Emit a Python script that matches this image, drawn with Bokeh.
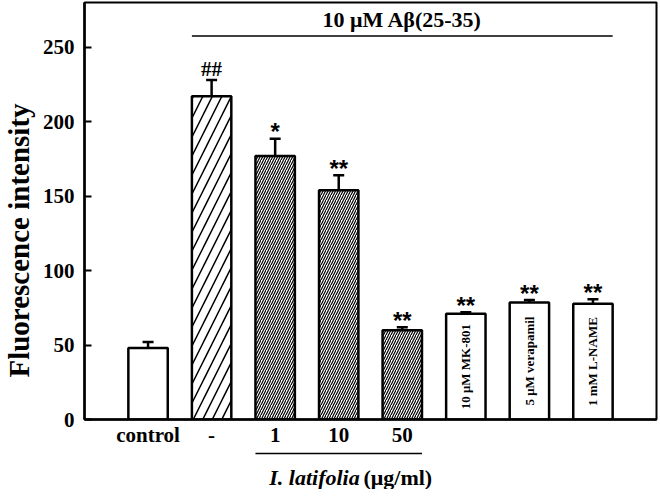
import numpy as np
from bokeh.plotting import figure
from bokeh.layouts import column, row
from bokeh.models import (ColumnDataSource, Range1d, FixedTicker, Whisker, TeeHead)
from bokeh.core.properties import value
from bokeh.embed import file_html
from bokeh.resources import INLINE

# ---------------- data ----------------
groups = ["control", "-", "1", "10", "50", "MK-801", "verapamil", "L-NAME"]
axis_labels = ["control", "-", "1", "10", "50"]
inner_labels = ["", "", "", "", "", "10 μM MK-801", "5 μM verapamil", "1 mM L-NAME"]
means = [48, 217, 177, 154, 60, 71, 78.5, 77.8]
errors = [4, 11, 11.5, 10, 2, 1, 1.7, 3]
marks = ["", "##", "*", "**", "**", "**", "**", "**"]
yticks = [0, 50, 100, 150, 200, 250]
top_label = "10 μM Aβ(25-35)"
x_title_italic = "I. latifolia"
x_title_rest = "(μg/ml)"
y_title = "Fluorescence intensity"

# ---------------- styles ----------------
hatch = ["blank", "/", "/", "/", "/", "blank", "blank", "blank"]
hscale = [12, 19, 5, 5, 5, 12, 12, 12]
hweight = [1, 1.5, 1.2, 1.2, 1.2, 1, 1, 1]
SERIF = value("Liberation Serif")
SANS = value("Liberation Sans")
BW = 0.62
W = 658
LW = 36          # width of the strip that holds the y title
H_MAIN = 449
H_STRIP = 40
H_ALL = H_MAIN + H_STRIP

xs = list(range(len(groups)))
upper = [m + e for m, e in zip(means, errors)]
src = ColumnDataSource(dict(x=xs, top=means, upper=upper, hatch=hatch,
                            hscale=hscale, hweight=hweight, mark=marks,
                            inner=inner_labels, mid=[m / 2 for m in means]))

p = figure(width=W - LW, height=H_MAIN, x_range=Range1d(-1, 8), y_range=Range1d(0, 280),
           output_backend="svg", toolbar_location=None, title=None,
           min_border_left=84 - LW, min_border_right=2, min_border_top=2,
           min_border_bottom=27)
p.background_fill_color = "white"
p.border_fill_color = "white"
p.outline_line_color = "black"
p.outline_line_width = 2
p.xgrid.visible = False
p.ygrid.visible = False

p.vbar(x="x", top="top", width=BW, source=src, fill_color="white",
       line_color="black", line_width=2.5, hatch_pattern="hatch",
       hatch_scale="hscale", hatch_weight="hweight", hatch_color="black")

p.add_layout(Whisker(base="x", upper="upper", lower="top", source=src,
                     line_width=2.5, line_color="black",
                     upper_head=TeeHead(size=11, line_width=2.5, line_color="black"),
                     lower_head=None))

# significance marks
hash_idx = [i for i, m in enumerate(marks) if m.startswith("#")]
star_idx = [i for i, m in enumerate(marks) if m.startswith("*")]
p.text(x=[xs[i] for i in hash_idx], y=[upper[i] for i in hash_idx],
       text=[marks[i] for i in hash_idx], text_align="center", text_baseline="middle",
       y_offset=-11, text_font=SERIF, text_font_size="21px", text_font_style="bold",
       text_color="black")
p.text(x=[xs[i] for i in star_idx], y=[upper[i] for i in star_idx],
       text=[marks[i] for i in star_idx], text_align="center", text_baseline="middle",
       y_offset=-7, text_font=SANS, text_font_size="24px", text_font_style="bold",
       text_color="black")

# rotated labels inside the last bars
p.text(x="x", y="mid", text="inner", source=src, angle=np.pi / 2,
       text_align="center", text_baseline="middle", text_font=SERIF,
       text_font_size="13px", text_font_style="bold", text_color="black")

# top bracket
p.segment(x0=[xs[1] - BW / 2], y0=[257.5], x1=[xs[-1] + BW / 2], y1=[257.5],
          line_color="black", line_width=1.5)
p.text(x=[(xs[1] + xs[-1]) / 2], y=[268.5], text=[top_label], text_align="center",
       text_baseline="middle", text_font=SERIF, text_font_size="22px",
       text_font_style="bold", text_color="black")

# axes
p.xaxis.ticker = FixedTicker(ticks=xs[:len(axis_labels)])
p.xaxis.major_label_overrides = {i: lab for i, lab in enumerate(axis_labels)}
p.xaxis.major_tick_line_color = None
p.xaxis.minor_tick_line_color = None
p.xaxis.major_tick_out = 0
p.xaxis.major_tick_in = 0
p.xaxis.axis_line_width = 2.5
p.xaxis.major_label_standoff = 3
p.xaxis.major_label_text_font = "Liberation Serif"
p.xaxis.major_label_text_font_size = "21px"
p.xaxis.major_label_text_font_style = "bold"
p.xaxis.major_label_text_color = "black"

p.yaxis.ticker = FixedTicker(ticks=yticks)
p.yaxis.axis_line_width = 2.5
p.yaxis.major_tick_in = 7
p.yaxis.major_tick_out = 0
p.yaxis.major_tick_line_width = 2
p.yaxis.minor_tick_line_color = None
p.yaxis.major_label_standoff = 10
p.yaxis.major_label_text_font = "Liberation Serif"
p.yaxis.major_label_text_font_size = "21px"
p.yaxis.major_label_text_font_style = "bold"
p.yaxis.major_label_text_color = "black"


def strip(width, height, x_range, y_range, left=0, right=0):
    f = figure(width=width, height=height, x_range=x_range, y_range=y_range,
               output_backend="svg", toolbar_location=None, title=None,
               x_axis_location=None, y_axis_location=None,
               min_border_left=left, min_border_right=right,
               min_border_top=0, min_border_bottom=0)
    f.outline_line_color = None
    f.xgrid.visible = False
    f.ygrid.visible = False
    f.background_fill_color = "white"
    f.border_fill_color = "white"
    return f


# strip below the axis: group bracket and title (shares the x scale)
p2 = strip(W - LW, H_STRIP, p.x_range, Range1d(0, H_STRIP), left=84 - LW, right=2)
p2.segment(x0=[xs[2] - BW / 2], y0=[H_STRIP - 4], x1=[xs[4] + BW / 2], y1=[H_STRIP - 4],
           line_color="black", line_width=1.5)
split_x = xs[3] + 0.33
p2.text(x=[split_x], y=[12], text=[x_title_italic], text_align="right",
        text_baseline="alphabetic", text_font=SERIF, text_font_size="22px",
        text_font_style="bold italic", text_color="black")
p2.text(x=[split_x + 0.06], y=[12], text=[x_title_rest], text_align="left",
        text_baseline="alphabetic", text_font=SERIF, text_font_size="22px",
        text_font_style="bold", text_color="black")

# strip at the left: y title
p0 = strip(LW, H_ALL, Range1d(0, LW), Range1d(0, H_ALL))
p0.text(x=[18], y=[H_ALL - 240], text=[y_title], angle=np.pi / 2,
        text_align="center", text_baseline="middle", text_font=SERIF,
        text_font_size="29px", text_font_style="bold", text_color="black")

layout = row(p0, column(p, p2, spacing=0), spacing=0)
open("out.html", "w").write(file_html(layout, INLINE))
